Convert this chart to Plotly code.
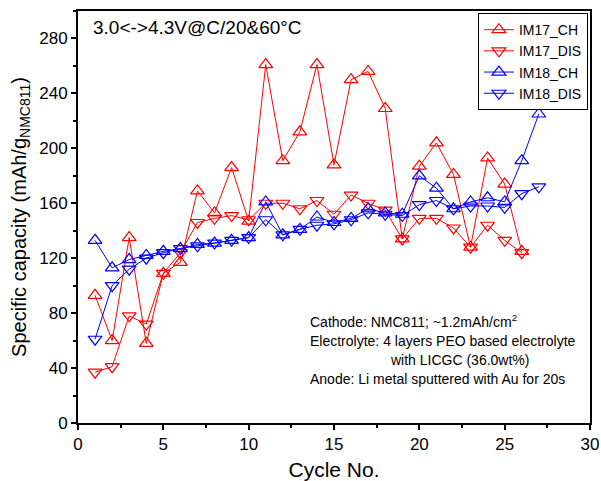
import plotly.graph_objects as go

cycles_17 = list(range(1, 27))
cycles_18 = list(range(1, 28))

im17_ch = [93, 60, 135, 58, 109, 117, 169, 153, 186, 147, 261, 191, 212, 261, 188,
           250, 256, 229, 134, 187, 204, 181, 128, 193, 174, 125]
im17_dis = [37, 41, 78, 72, 109, 124, 146, 149, 151, 148, 160, 160, 156, 162, 152,
            166, 160, 155, 134, 149, 149, 142, 128, 144, 133, 124]
im18_ch = [133, 113, 119, 122, 125, 127, 130, 131, 133, 135, 161, 137, 141, 150, 146,
           149, 156, 153, 152, 180, 171, 156, 161, 164, 161, 191, 225]
im18_dis = [61, 100, 112, 120, 124, 127, 129, 131, 133, 135, 148, 137, 141, 144, 145,
            148, 153, 152, 151, 159, 162, 156, 158, 158, 157, 167, 172]

RED = "#ff0000"
BLUE = "#0000ff"
FONT = "Liberation Sans, Arial, sans-serif"

fig = go.Figure()

def add(name, x, y, color, symbol):
    fig.add_trace(go.Scatter(
        x=x, y=y, name=name, mode="lines+markers",
        line=dict(color=color, width=1),
        marker=dict(symbol=symbol, size=12, color=color,
                    line=dict(color=color, width=1.2)),
    ))

add("IM17_CH", cycles_17, im17_ch, RED, "triangle-up-open")
add("IM17_DIS", cycles_17, im17_dis, RED, "triangle-down-open")
add("IM18_CH", cycles_18, im18_ch, BLUE, "triangle-up-open")
add("IM18_DIS", cycles_18, im18_dis, BLUE, "triangle-down-open")

fig.update_layout(
    width=601, height=481,
    margin=dict(l=78, r=11, t=11, b=58),
    plot_bgcolor="white", paper_bgcolor="white",
    font=dict(family=FONT, size=15, color="black"),
    showlegend=True,
    legend=dict(x=0.996, y=0.995, xanchor="right", yanchor="top",
                bgcolor="white", bordercolor="black", borderwidth=1,
                font=dict(size=14, family=FONT), tracegroupgap=0,
                itemwidth=30),
)

fig.update_xaxes(
    range=[0, 30], tickvals=[0, 5, 10, 15, 20, 25, 30],
    ticks="outside", ticklen=5, tickwidth=1.5, tickcolor="black",
    minor=dict(tickvals=[2.5, 7.5, 12.5, 17.5, 22.5, 27.5], ticks="outside",
               ticklen=3, tickwidth=1.5, tickcolor="black"),
    showline=True, linecolor="black", linewidth=2, mirror=True,
    showgrid=False, zeroline=False, automargin=False,
    title=dict(text="Cycle No.", font=dict(size=21, family=FONT), standoff=10),
    tickfont=dict(size=17, family=FONT),
)
fig.update_yaxes(
    range=[0, 300], tickvals=[0, 40, 80, 120, 160, 200, 240, 280],
    ticks="outside", ticklen=5, tickwidth=1.5, tickcolor="black",
    minor=dict(tickvals=[20, 60, 100, 140, 180, 220, 260, 300], ticks="outside",
               ticklen=3, tickwidth=1.5, tickcolor="black"),
    showline=True, linecolor="black", linewidth=2, mirror=True,
    showgrid=False, zeroline=False, automargin=False,
    title=dict(text="Specific capacity (mAh/g<sub>NMC811</sub>)",
               font=dict(size=20, family=FONT), standoff=7),
    tickfont=dict(size=17, family=FONT),
)

fig.add_annotation(xref="paper", yref="paper", x=0.026, y=0.99,
                   xanchor="left", yanchor="top", showarrow=False,
                   text="3.0<->4.3V@C/20&60°C", font=dict(size=19, family=FONT))

notes = [
    ("Cathode: NMC811; ~1.2mAh/cm<sup>2</sup>", 308, 321),
    ("Electrolyte: 4 layers PEO based electrolyte", 308, 341),
    ("with LICGC (36.0wt%)", 388, 360),
    ("Anode: Li metal sputtered with Au for 20s", 308, 379),
]
for txt, px, py in notes:
    fig.add_annotation(xref="paper", yref="paper",
                       x=(px - 78) / 512, y=1 - (py - 11) / 412,
                       xanchor="left", yanchor="middle", showarrow=False,
                       text=txt, font=dict(size=14, family=FONT))

fig.write_html("out.html")
